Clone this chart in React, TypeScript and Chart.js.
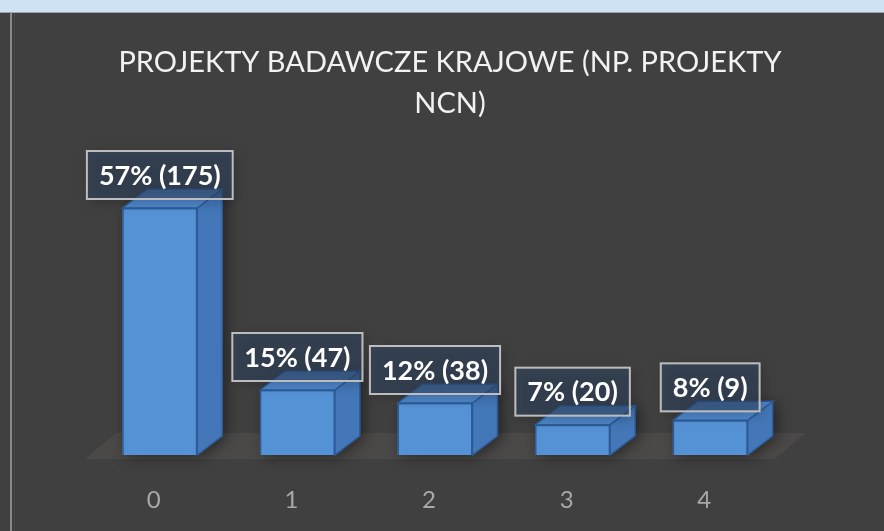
import { useEffect, useRef } from 'react';
import { Chart, registerables } from 'chart.js';

Chart.register(...registerables);

const categories = ['0', '1', '2', '3', '4'];
const percentValues = [57, 15, 12, 7, 8];
const countValues = [175, 47, 38, 20, 9];
const titleLines = ['PROJEKTY BADAWCZE KRAJOWE (NP. PROJEKTY', 'NCN)'];

const DX = 25;
const DY = -19;
const FONT = 'Lato, "Open Sans", sans-serif';

const bar3d = {
  id: 'bar3d',
  beforeDatasetsDraw(chart: any) {
    const { ctx, chartArea } = chart;
    const meta = chart.getDatasetMeta(0);
    const base = chart.scales.y.getPixelForValue(0);
    ctx.save();
    // floor
    const fl = chartArea.left - 6;
    const fr = chartArea.right - 4;
    const fy = base + 4;
    ctx.beginPath();
    ctx.moveTo(fl, fy);
    ctx.lineTo(fr, fy);
    ctx.lineTo(fr + 31, fy - 26);
    ctx.lineTo(fl + 31, fy - 26);
    ctx.closePath();
    ctx.fillStyle = '#4b4947';
    ctx.fill();
    meta.data.forEach((el: any) => {
      const { x, y, width } = el.getProps(['x', 'y', 'width'], true);
      const l = x - width / 2;
      const r = x + width / 2;
      // shadow
      ctx.save();
      ctx.shadowColor = 'rgba(0,0,0,0.45)';
      ctx.shadowBlur = 14;
      ctx.shadowOffsetX = 4;
      ctx.shadowOffsetY = 2;
      ctx.beginPath();
      ctx.moveTo(l, base);
      ctx.lineTo(l, y);
      ctx.lineTo(l + DX, y + DY);
      ctx.lineTo(r + DX, y + DY);
      ctx.lineTo(r + DX, base + DY);
      ctx.lineTo(r, base);
      ctx.closePath();
      ctx.fillStyle = '#3f72b0';
      ctx.fill();
      ctx.restore();
      // side face
      ctx.beginPath();
      ctx.moveTo(r, y);
      ctx.lineTo(r + DX, y + DY);
      ctx.lineTo(r + DX, base + DY);
      ctx.lineTo(r, base);
      ctx.closePath();
      ctx.fillStyle = '#4377b7';
      ctx.fill();
      ctx.strokeStyle = '#2d5b96';
      ctx.lineWidth = 1.5;
      ctx.stroke();
      // top face
      ctx.beginPath();
      ctx.moveTo(l, y);
      ctx.lineTo(l + DX, y + DY);
      ctx.lineTo(r + DX, y + DY);
      ctx.lineTo(r, y);
      ctx.closePath();
      ctx.fillStyle = '#4f86c9';
      ctx.fill();
      ctx.stroke();
    });
    ctx.restore();
  },
  afterDatasetsDraw(chart: any) {
    const { ctx } = chart;
    const meta = chart.getDatasetMeta(0);
    ctx.save();
    ctx.font = `bold 27px ${FONT}`;
    meta.data.forEach((el: any, i: number) => {
      const { x, y } = el.getProps(['x', 'y'], true);
      const text = `${percentValues[i]}% (${countValues[i]})`;
      const tw = ctx.measureText(text).width;
      const bw = tw + 24;
      const bh = 48;
      const bx = x - bw / 2;
      const by = y - 9 - bh;
      ctx.save();
      ctx.shadowColor = 'rgba(0,0,0,0.4)';
      ctx.shadowBlur = 12;
      ctx.shadowOffsetX = 3;
      ctx.shadowOffsetY = 3;
      ctx.fillStyle = 'rgba(50,70,100,0.55)';
      ctx.fillRect(bx, by, bw, bh);
      ctx.restore();
      ctx.strokeStyle = '#bdbdbd';
      ctx.lineWidth = 2;
      ctx.strokeRect(bx, by, bw, bh);
      ctx.fillStyle = '#ffffff';
      ctx.textAlign = 'center';
      ctx.textBaseline = 'middle';
      ctx.fillText(text, x, by + bh / 2 + 1);
    });
    ctx.restore();
  },
};

export default function App() {
  const ref = useRef<HTMLCanvasElement>(null);
  useEffect(() => {
    const chart = new Chart(ref.current as HTMLCanvasElement, {
      type: 'bar',
      data: {
        labels: categories,
        datasets: [
          {
            data: percentValues,
            backgroundColor: '#5592d5',
            borderColor: '#2d5b96',
            borderWidth: 1.5,
            barPercentage: 0.545,
            categoryPercentage: 1,
          },
        ],
      },
      options: {
        responsive: false,
        animation: false,
        devicePixelRatio: 1,
        layout: { padding: { left: 91, right: 75, top: 1, bottom: 0 } },
        plugins: {
          legend: { display: false },
          tooltip: { enabled: false },
          title: {
            display: true,
            text: titleLines,
            color: '#f2f2f2',
            font: { family: FONT, size: 29, weight: 'normal', lineHeight: 41 / 29 },
            padding: { top: 28, bottom: 71 },
          },
        },
        scales: {
          x: {
            grid: { display: false, drawTicks: false },
            border: { display: false },
            ticks: {
              color: '#a8a8a8',
              font: { family: FONT, size: 24 },
              padding: 31,
              labelOffset: -6,
            },
            afterFit: (axis: any) => {
              axis.height = 76;
            },
          },
          y: {
            position: 'right',
            min: 0,
            max: 60,
            grid: { display: false, drawTicks: false },
            border: { display: false },
            ticks: { display: false },
            afterFit: (axis: any) => {
              axis.width = 30;
            },
          },
        },
      },
      plugins: [bar3d],
    } as any);
    return () => chart.destroy();
  }, []);

  return (
    <div
      style={{
        position: 'fixed',
        left: 0,
        top: 0,
        width: 884,
        height: 531,
        background: '#404040',
        overflow: 'hidden',
      }}
    >
      <div
        style={{
          position: 'absolute',
          left: 0,
          top: 0,
          width: 884,
          height: 12,
          background: '#cfe1f2',
          borderBottom: '1px solid #9aa4ad',
        }}
      />
      <div style={{ position: 'absolute', left: 10, top: 13, width: 2, height: 518, background: '#8a8a8a' }} />
      <div style={{ position: 'absolute', left: 14, top: 13, width: 1, height: 518, background: '#4a4a4a' }} />
      <canvas
        ref={ref}
        width={884}
        height={518}
        style={{ position: 'absolute', left: 0, top: 13, display: 'block' }}
      />
    </div>
  );
}
